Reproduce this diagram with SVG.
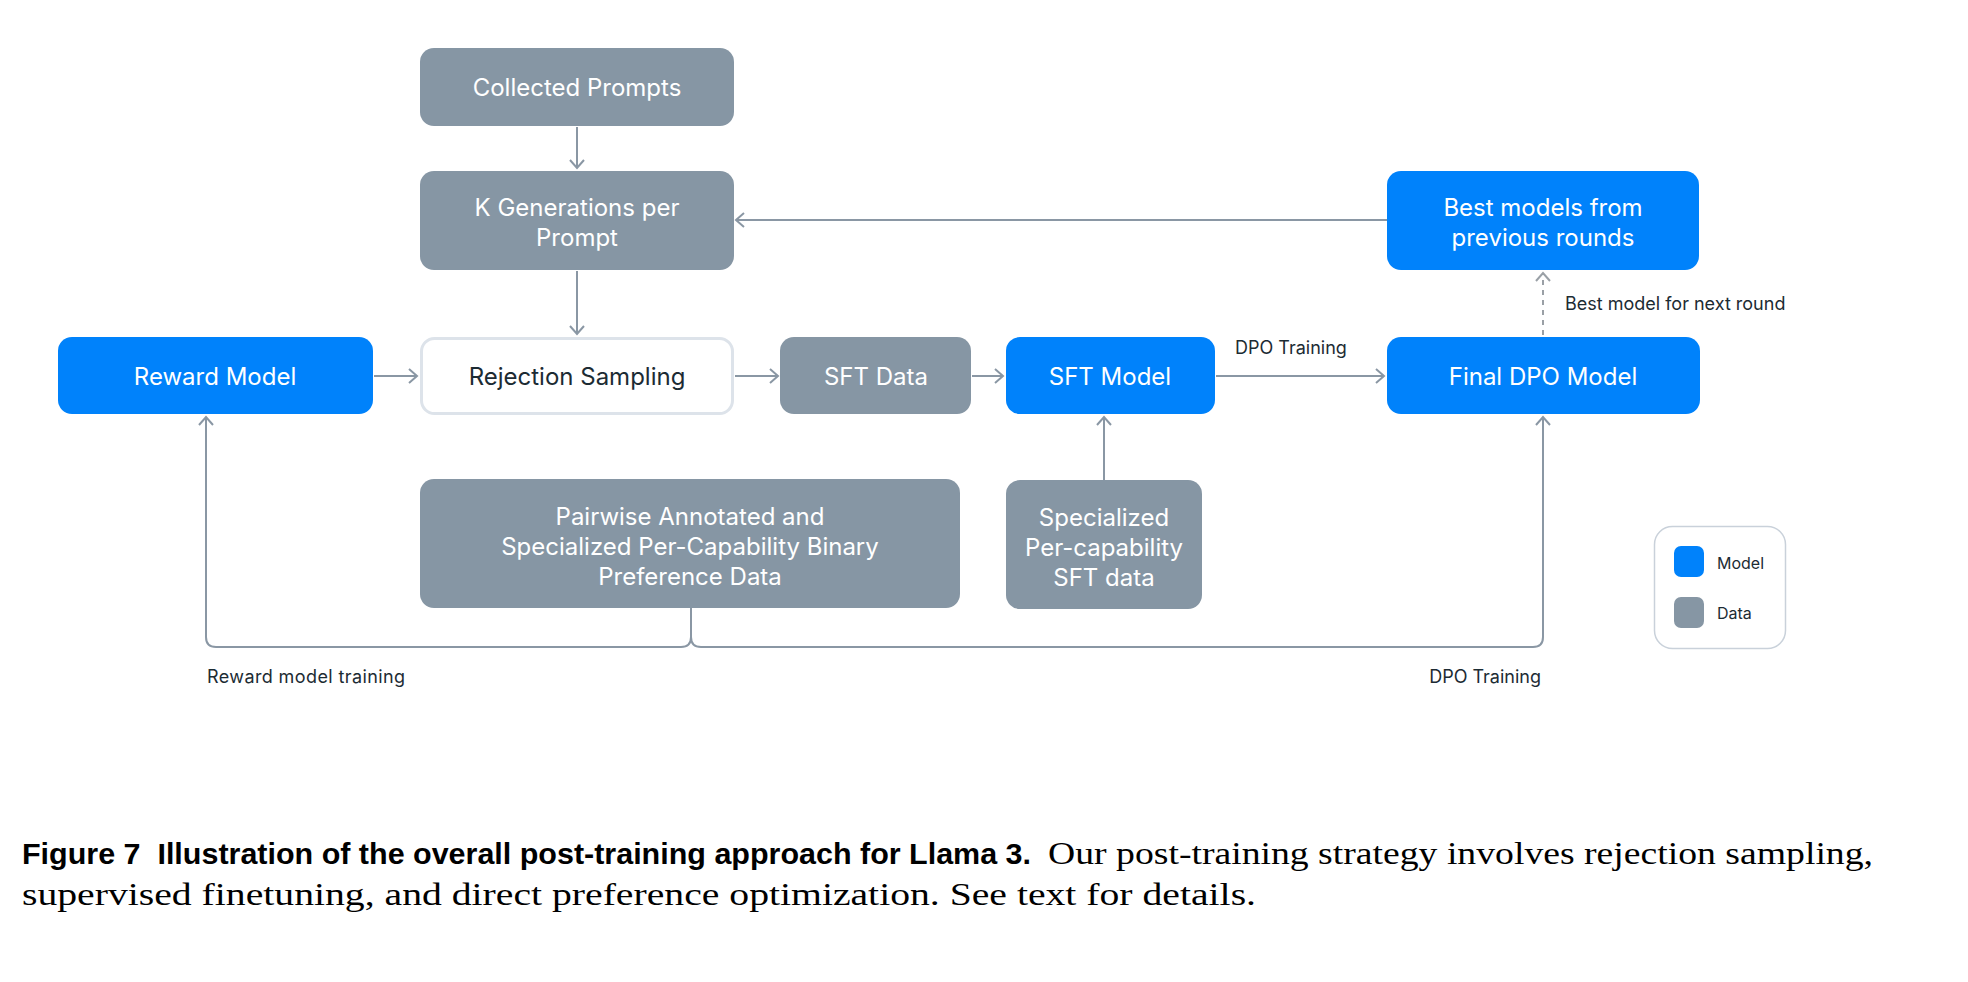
<svg xmlns="http://www.w3.org/2000/svg" width="1968" height="982" viewBox="0 0 1968 982">
<style>
.model{fill:#0082fb}
.data{fill:#8696a4}
.lbl{font-family:Inter,"Noto Sans","Liberation Sans",sans-serif;font-size:24px;fill:#ffffff;text-anchor:middle}
.dark{fill:#1c2b33}
.small{font-family:Inter,"Noto Sans","Liberation Sans",sans-serif;font-size:18px;fill:#1c2b33}
.leg{font-family:Inter,"Noto Sans","Liberation Sans",sans-serif;font-size:16px;fill:#1c2b33}
.conn{fill:none;stroke:#8a97a4;stroke-width:2}
.dash{fill:none;stroke:#9aa0a6;stroke-width:2;stroke-dasharray:5 5}
.capb{font-family:"Liberation Sans",Arial,sans-serif;font-weight:bold;font-size:29px;fill:#000}
.caps{font-family:"Liberation Serif","Times New Roman",serif;font-size:31px;fill:#000}
</style>
<defs>
<marker id="ah" markerUnits="userSpaceOnUse" markerWidth="12" markerHeight="18" refX="9" refY="8" orient="auto">
<path d="M1,1 L9,8 L1,15" fill="none" stroke="#8a97a4" stroke-width="2"/>
</marker>
<marker id="ahd" markerUnits="userSpaceOnUse" markerWidth="12" markerHeight="18" refX="9" refY="8" orient="auto">
<path d="M1,1 L9,8 L1,15" fill="none" stroke="#9aa0a6" stroke-width="2"/>
</marker>
</defs>
<rect width="1968" height="982" fill="#ffffff"/>

<g id="connectors">
<line class="conn" x1="577" y1="127" x2="577" y2="168" marker-end="url(#ah)"/>
<line class="conn" x1="577" y1="271" x2="577" y2="334" marker-end="url(#ah)"/>
<line class="conn" x1="1387" y1="220" x2="736" y2="220" marker-end="url(#ah)"/>
<line class="conn" x1="374" y1="376" x2="417" y2="376" marker-end="url(#ah)"/>
<line class="conn" x1="735" y1="376" x2="778" y2="376" marker-end="url(#ah)"/>
<line class="conn" x1="972" y1="376" x2="1003" y2="376" marker-end="url(#ah)"/>
<line class="conn" x1="1216" y1="376" x2="1384" y2="376" marker-end="url(#ah)"/>
<line class="dash" x1="1543" y1="335" x2="1543" y2="273" marker-end="url(#ahd)"/>
<line class="conn" x1="1104" y1="480" x2="1104" y2="417" marker-end="url(#ah)"/>
<path class="conn" d="M691,608 V637 Q691,647 681,647 H216 Q206,647 206,637 V417" marker-end="url(#ah)"/>
<path class="conn" d="M691,637 Q691,647 701,647 H1533 Q1543,647 1543,637 V417" marker-end="url(#ah)"/>
<text class="small" x="1235" y="354">DPO Training</text>
<text class="small" x="1565" y="310">Best model for next round</text>
<text class="small" x="207" y="683" textLength="198">Reward model training</text>
<text class="small" x="1541" y="683" text-anchor="end">DPO Training</text>
</g>

<g id="collected-prompts">
<rect class="data" x="420" y="48" width="314" height="78" rx="14"/>
<text class="lbl" x="577" y="96">Collected Prompts</text>
</g>
<g id="k-generations">
<rect class="data" x="420" y="171" width="314" height="99" rx="14"/>
<text class="lbl" x="577" y="216">K Generations per</text>
<text class="lbl" x="577" y="246">Prompt</text>
</g>
<g id="best-models">
<rect class="model" x="1387" y="171" width="312" height="99" rx="14"/>
<text class="lbl" x="1543" y="216">Best models from</text>
<text class="lbl" x="1543" y="246">previous rounds</text>
</g>
<g id="reward-model">
<rect class="model" x="58" y="337" width="315" height="77" rx="14"/>
<text class="lbl" x="215" y="385">Reward Model</text>
</g>
<g id="rejection-sampling">
<rect x="421.5" y="338.5" width="311" height="75" rx="13" fill="#ffffff" stroke="#dde3ea" stroke-width="3"/>
<text class="lbl dark" x="577" y="385">Rejection Sampling</text>
</g>
<g id="sft-data">
<rect class="data" x="780" y="337" width="191" height="77" rx="14"/>
<text class="lbl" x="876" y="385">SFT Data</text>
</g>
<g id="sft-model">
<rect class="model" x="1006" y="337" width="209" height="77" rx="14"/>
<text class="lbl" x="1110" y="385">SFT Model</text>
</g>
<g id="final-dpo-model">
<rect class="model" x="1387" y="337" width="313" height="77" rx="14"/>
<text class="lbl" x="1543" y="385">Final DPO Model</text>
</g>
<g id="pairwise-data">
<rect class="data" x="420" y="479" width="540" height="129" rx="14"/>
<text class="lbl" x="690" y="525">Pairwise Annotated and</text>
<text class="lbl" x="690" y="555">Specialized Per-Capability Binary</text>
<text class="lbl" x="690" y="585">Preference Data</text>
</g>
<g id="specialized-sft-data">
<rect class="data" x="1006" y="480" width="196" height="129" rx="14"/>
<text class="lbl" x="1104" y="526">Specialized</text>
<text class="lbl" x="1104" y="556">Per-capability</text>
<text class="lbl" x="1104" y="586">SFT data</text>
</g>
<g id="legend">
<rect x="1654.5" y="526.5" width="131" height="122" rx="18" fill="#ffffff" stroke="#c9d1da" stroke-width="1.5"/>
<rect class="model" x="1674" y="546" width="30" height="31" rx="7"/>
<text class="leg" x="1717" y="569">Model</text>
<rect class="data" x="1674" y="597" width="30" height="31" rx="7"/>
<text class="leg" x="1717" y="619">Data</text>
</g>

<g id="caption">
<text class="capb" x="22" y="864" textLength="1009" lengthAdjust="spacingAndGlyphs" xml:space="preserve">Figure 7  Illustration of the overall post-training approach for Llama 3.</text>
<text class="caps" x="1048" y="864" textLength="825" lengthAdjust="spacingAndGlyphs">Our post-training strategy involves rejection sampling,</text>
<text class="caps" x="22" y="905" textLength="1234" lengthAdjust="spacingAndGlyphs">supervised finetuning, and direct preference optimization. See text for details.</text>
</g>
</svg>
